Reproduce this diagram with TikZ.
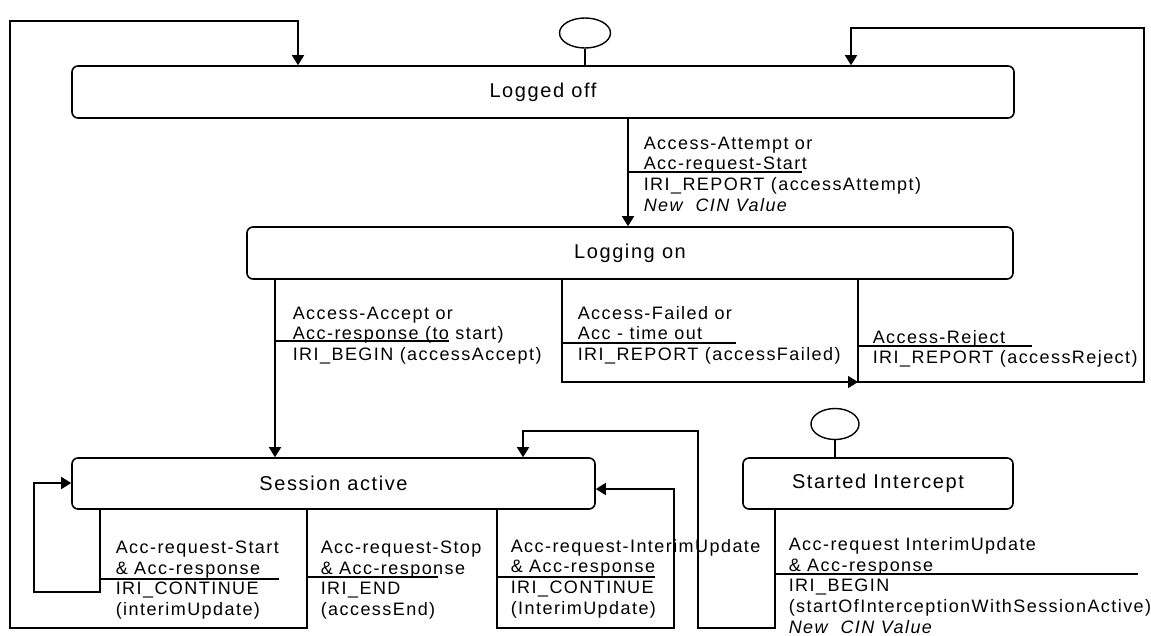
\documentclass[tikz,border=0pt]{standalone}
\usepackage{fontspec}
\setmainfont{Liberation Sans}
\newfontfamily\lblfont[LetterSpace=8]{Liberation Sans}
\usetikzlibrary{arrows.meta,shapes.geometric}
\newcommand\boxfont{\lblfont\fontsize{20}{24}\selectfont}
\newcommand\lblsize{\lblfont\fontsize{18}{20.7}\selectfont}
\newcommand\Lx{\strut}
\begin{document}
\begin{tikzpicture}[x=1pt,y=-1pt,
  line width=1.6pt,
  state/.style={draw, rounded corners=6pt, inner sep=0pt, font=\boxfont},
  init/.style={draw, ellipse, inner sep=0pt, line width=1.4pt},
  arr/.style={-{Triangle[length=10pt,width=12pt]}},
  lbl/.style={anchor=north west, inner sep=0pt, align=left, font=\lblsize},
  sep/.style={line width=1.2pt}]
\useasboundingbox (0,0) rectangle (1151,635);

% states
\node[state, minimum width=942pt, minimum height=52pt] (lo) at (543,92) {Logged off};
\node[state, minimum width=766pt, minimum height=52pt] (lon) at (630,253) {Logging on};
\node[state, minimum width=523pt, minimum height=51pt] (sa) at (333.5,483.5) {Session active};
\node[state, minimum width=270pt, minimum height=51pt] (si) at (878,483.5) {Started Intercept};

% initial states
\node[init, minimum width=51pt, minimum height=30pt] (i1) at (585,33) {};
\node[init, minimum width=48pt, minimum height=31pt] (i2) at (835,424) {};
\draw (i1.south) -- (lo.north -| i1.south);
\draw (i2.south) -- (si.north -| i2.south);

% x positions of connectors
\coordinate (xA) at (628,0);
\coordinate (xB) at (275,0);
\coordinate (xF) at (562,0);
\coordinate (xR) at (858,0);
\coordinate (xRR) at (1144,0);
\coordinate (xRT) at (851,0);
\coordinate (xS) at (307,0);
\coordinate (xL) at (10,0);
\coordinate (xLT) at (298,0);
\coordinate (xC) at (100,0);
\coordinate (xCL) at (34,0);
\coordinate (xI) at (497,0);
\coordinate (xIR) at (674,0);
\coordinate (xSI) at (775,0);
\coordinate (xSL) at (698,0);
\coordinate (xST) at (523,0);

% Access-Attempt
\draw[arr] (lo.south -| xA) -- (lon.north -| xA);
% Access-Accept
\draw[arr] (lon.south -| xB) -- (sa.north -| xB);
% Access-Failed
\coordinate (fb) at (562,382);
\draw[arr] (lon.south -| xF) -- (fb) -- (fb -| xR);
% Access-Reject
\coordinate (rb) at (858,382);
\coordinate (rt) at (1144,28);
\draw[arr] (lon.south -| xR) -- (rb) -- (rb -| rt) -- (rt) -- (rt -| xRT) -- (lo.north -| xRT);
% Acc-request-Stop
\coordinate (sb) at (307,628);
\coordinate (lt) at (10,21);
\draw[arr] (sa.south -| xS) -- (sb) -- (sb -| lt) -- (lt) -- (lt -| xLT) -- (lo.north -| xLT);
% self loop
\coordinate (cb) at (100,592);
\coordinate (cl) at (34,483);
\draw[arr] (sa.south -| xC) -- (cb) -- (cb -| cl) -- (cl) -- (cl -| sa.west);
% Interim update
\coordinate (ib) at (497,628);
\coordinate (ir) at (674,489);
\draw[arr] (sa.south -| xI) -- (ib) -- (ib -| ir) -- (ir) -- (ir -| sa.east);
% Started intercept
\coordinate (sib) at (775,628);
\coordinate (sit) at (698,431);
\draw[arr] (si.south -| xSI) -- (sib) -- (sib -| sit) -- (sit) -- (sit -| xST) -- (sa.north -| xST);

% labels
\node[lbl] (t1) at (643,134) {\Lx Access-Attempt or\\\Lx Acc-request-Start\\\Lx IRI\_REPORT (accessAttempt)\\\Lx\textit{New\ \ CIN Value}};
\draw[sep] (628,172) -- (802,172);

\node[lbl] (t2) at (292,304) {\Lx Access-Accept or\\\Lx Acc-response (to start)\\\Lx IRI\_BEGIN (accessAccept)};
\draw[sep] (275,341) -- (449,341);

\node[lbl] (t3) at (577,304) {\Lx Access-Failed or\\\Lx Acc - time out\\\Lx IRI\_REPORT (accessFailed)};
\draw[sep] (562,343) -- (736,343);

\node[lbl] (t4) at (872,328) {\Lx Access-Reject\\\Lx IRI\_REPORT (accessReject)};
\draw[sep] (858,346) -- (1032,346);

\node[lbl] (t5) at (115,538) {\Lx Acc-request-Start\\\Lx \& Acc-response\\\Lx IRI\_CONTINUE\\\Lx (interimUpdate)};
\draw[sep] (100,579) -- (279,579);

\node[lbl] (t6) at (320,538) {\Lx Acc-request-Stop\\\Lx \& Acc-response\\\Lx IRI\_END\\\Lx (accessEnd)};
\draw[sep] (307,577) -- (438,577);

\node[lbl] (t7) at (510,537) {\Lx Acc-request-InterimUpdate\\\Lx \& Acc-response\\\Lx IRI\_CONTINUE\\\Lx (InterimUpdate)};
\draw[sep] (497,577) -- (655,577);

\node[lbl] (t8) at (788,535) {\Lx Acc-request InterimUpdate\\\Lx \& Acc-response\\\Lx IRI\_BEGIN\\\Lx (startOfInterceptionWithSessionActive)\\\Lx\textit{New\ \ CIN Value}};
\draw[sep] (775,574) -- (1138,574);
\end{tikzpicture}
\end{document}
